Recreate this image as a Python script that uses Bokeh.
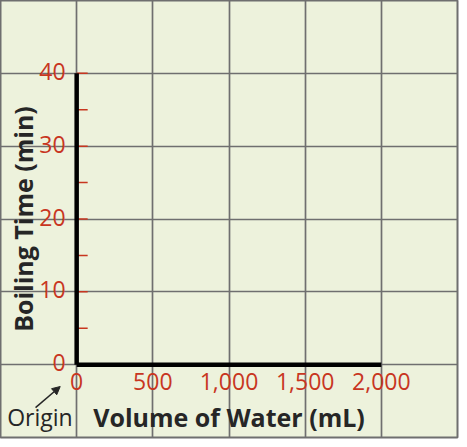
from bokeh.plotting import figure
from bokeh.models import Grid, FixedTicker, Arrow, NormalHead, Range1d, ColumnDataSource
from bokeh.core.properties import value
from bokeh.embed import file_html
from bokeh.resources import INLINE

# ---- data ----
x_grid = [-500, 0, 500, 1000, 1500, 2000, 2500]
y_grid = [-10, 0, 10, 20, 30, 40, 50]
x_ticks = [0, 500, 1000, 1500, 2000]
x_labels = ["0", "500", "1,000", "1,500", "2,000"]
y_ticks = [0, 10, 20, 30, 40]
y_labels = ["0", "10", "20", "30", "40"]
y_minor = [5, 10, 15, 20, 25, 30, 35, 40]
x_title = "Volume of Water (mL)"
y_title = "Boiling Time (min)"
origin_text = "Origin"

RED = "#c8361f"
DARK = "#262626"
GRID = "#6f6f6f"

p = figure(width=459, height=439,
           x_range=Range1d(x_grid[0], x_grid[-1]),
           y_range=Range1d(y_grid[0], y_grid[-1]),
           x_axis_type=None, y_axis_type=None,
           toolbar_location=None, output_backend="svg",
           min_border_left=0, min_border_top=0,
           min_border_right=2, min_border_bottom=2,
           background_fill_color="#edf2dc", border_fill_color="white",
           outline_line_color=GRID, outline_line_width=2)

p.add_layout(Grid(dimension=0, ticker=FixedTicker(ticks=x_grid),
                  grid_line_color=GRID, grid_line_width=1.7))
p.add_layout(Grid(dimension=1, ticker=FixedTicker(ticks=y_grid),
                  grid_line_color=GRID, grid_line_width=1.7))

# minor red ticks on y axis
p.ray(x=[x_ticks[0]] * len(y_minor), y=y_minor, length=11, length_units="screen",
      angle=0, line_color=RED, line_width=1.5)

# thick black axes
p.line(x=[x_ticks[0], x_ticks[-1]], y=[y_ticks[0], y_ticks[0]], line_color="black", line_width=4.5)
p.line(x=[x_ticks[0], x_ticks[0]], y=[y_ticks[0], y_ticks[-1]], line_color="black", line_width=4.5)

# tick labels
xs = ColumnDataSource(dict(x=x_ticks, y=[y_ticks[0]] * len(x_ticks), t=x_labels))
p.text(x="x", y="y", text="t", source=xs, text_align="center", text_baseline="top",
       y_offset=8, text_color=RED, text_font=value("Open Sans"), text_font_size="23px")
ys = ColumnDataSource(dict(x=[x_ticks[0]] * len(y_ticks), y=y_ticks, t=y_labels))
p.text(x="x", y="y", text="t", source=ys, text_align="right", text_baseline="middle",
       x_offset=-11, y_offset=-2, text_color=RED, text_font=value("Open Sans"), text_font_size="23px")

# axis titles
p.text(x=[(x_ticks[0] + x_ticks[-1]) / 2], y=[y_ticks[0]], text=[x_title],
       text_align="center", text_baseline="middle", y_offset=52,
       text_color=DARK, text_font=value("Open Sans"), text_font_style="bold",
       text_font_size="25px")
p.text(x=[x_ticks[0]], y=[(y_ticks[0] + y_ticks[-1]) / 2], text=[y_title],
       text_align="center", text_baseline="middle", x_offset=-54, angle=1.5708,
       text_color=DARK, text_font=value("Open Sans"), text_font_style="bold",
       text_font_size="25px")

# Origin label with arrow
p.text(x=[x_ticks[0]], y=[y_ticks[0]], text=[origin_text], text_align="right",
       text_baseline="middle", x_offset=-4, y_offset=52,
       text_color=DARK, text_font=value("Open Sans"), text_font_size="23px")
p.add_layout(Arrow(x_start=-270, y_start=-5.9, x_end=-108, y_end=-3.0,
                   line_color=DARK, line_width=1.5,
                   end=NormalHead(size=8, fill_color=DARK, line_color=DARK)))

open("out.html", "w").write(file_html(p, INLINE))
